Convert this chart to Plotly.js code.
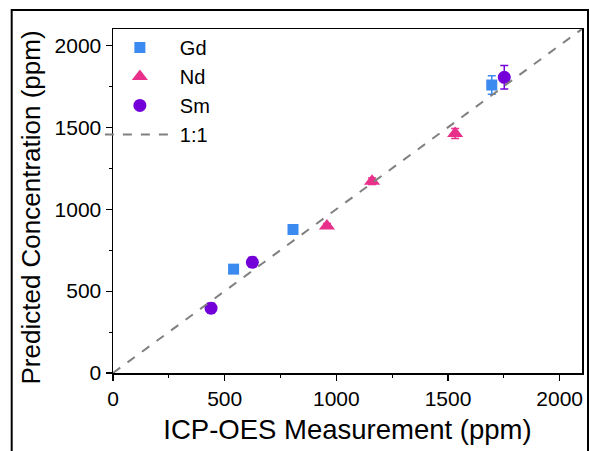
<!DOCTYPE html>
<html>
<head>
<meta charset="utf-8">
<script src="https://cdn.plot.ly/plotly-3.0.1.min.js"></script>
<style>html,body{margin:0;padding:0;background:#fff;}#chart{width:590px;height:451px;}</style>
</head>
<body>
<div id="chart"></div>
<script>
// Gd
const gdX = [540, 806, 1696];
const gdY = [634, 876, 1758];
const gdErr = [15, 25, 57];
// Nd
const ndX = [958, 1160, 1532];
const ndY = [898, 1170, 1462];
const ndErr = [15, 20, 30];
// Sm
const smX = [439, 624, 1752];
const smY = [396, 676, 1805];
const smErr = [30, 30, 72];
// 1:1 line
const refX = [0, 2100];
const refY = [0, 2100];
const xTicks = [0, 500, 1000, 1500, 2000];
const yTicks = [0, 500, 1000, 1500, 2000];

const FONT = 'Arial, "Liberation Sans", sans-serif';
const cGd = '#3a8af0', cNd = '#e8308a', cSm = '#7300d9';

const traces = [
  {x: gdX, y: gdY, name: 'Gd', mode: 'markers', type: 'scatter',
   marker: {symbol: 'square', size: 11, color: cGd},
   error_y: {type: 'data', array: gdErr, visible: true, color: cGd, thickness: 1.5, width: 4}},
  {x: ndX, y: ndY, name: 'Nd', mode: 'markers', type: 'scatter',
   marker: {symbol: 'triangle-up', size: 14, color: cNd},
   error_y: {type: 'data', array: ndErr, visible: true, color: cNd, thickness: 1.5, width: 4}},
  {x: smX, y: smY, name: 'Sm', mode: 'markers', type: 'scatter',
   marker: {symbol: 'circle', size: 13, color: cSm},
   error_y: {type: 'data', array: smErr, visible: true, color: cSm, thickness: 1.5, width: 4}},
  {x: refX, y: refY, name: '1:1', mode: 'lines', type: 'scatter',
   line: {color: '#808080', width: 2, dash: 'dash'}}
];

const axisCommon = {
  range: [0, 2100], showgrid: false, zeroline: false,
  showline: true, linecolor: '#000', linewidth: 1.5, mirror: true,
  ticks: 'outside', ticklen: 6, tickwidth: 1.2, tickcolor: '#000',
  tickfont: {family: FONT, size: 21, color: '#000'},
  minor: {ticks: 'outside', ticklen: 3, tickwidth: 1, tickcolor: '#000', dtick: 250, showgrid: false}
};

const layout = {
  width: 590, height: 451,
  margin: {l: 112.5, r: 8, t: 29, b: 78},
  paper_bgcolor: '#fff', plot_bgcolor: '#fff',
  font: {family: FONT, color: '#000'},
  showlegend: true,
  legend: {x: -0.028, y: 1.003, xanchor: 'left', yanchor: 'top',
           font: {family: FONT, size: 20, color: '#000'},
           bgcolor: 'rgba(0,0,0,0)', tracegroupgap: 0, itemwidth: 70},
  xaxis: Object.assign({}, axisCommon, {
    tickvals: xTicks, ticktext: xTicks.map(String),
    title: {text: 'ICP-OES Measurement (ppm)', font: {family: FONT, size: 27.5, color: '#000'}, standoff: 11}
  }),
  yaxis: Object.assign({}, axisCommon, {
    tickvals: yTicks, ticktext: yTicks.map(String)
  }),
  annotations: [
    {text: 'Predicted Concentration (ppm)', xref: 'paper', yref: 'paper',
     x: -0.1757, y: 0.48, xanchor: 'center', yanchor: 'middle', textangle: -90,
     showarrow: false, font: {family: FONT, size: 26, color: '#000'}}
  ],
  shapes: [
    {type: 'rect', xref: 'paper', yref: 'paper', x0: -0.216, x1: 1.0128, y0: -0.3, y1: 1.0549,
     line: {color: '#000', width: 2}, fillcolor: 'rgba(0,0,0,0)', layer: 'above'}
  ]
};

Plotly.newPlot('chart', traces, layout, {displayModeBar: false, staticPlot: true});
</script>
</body>
</html>
